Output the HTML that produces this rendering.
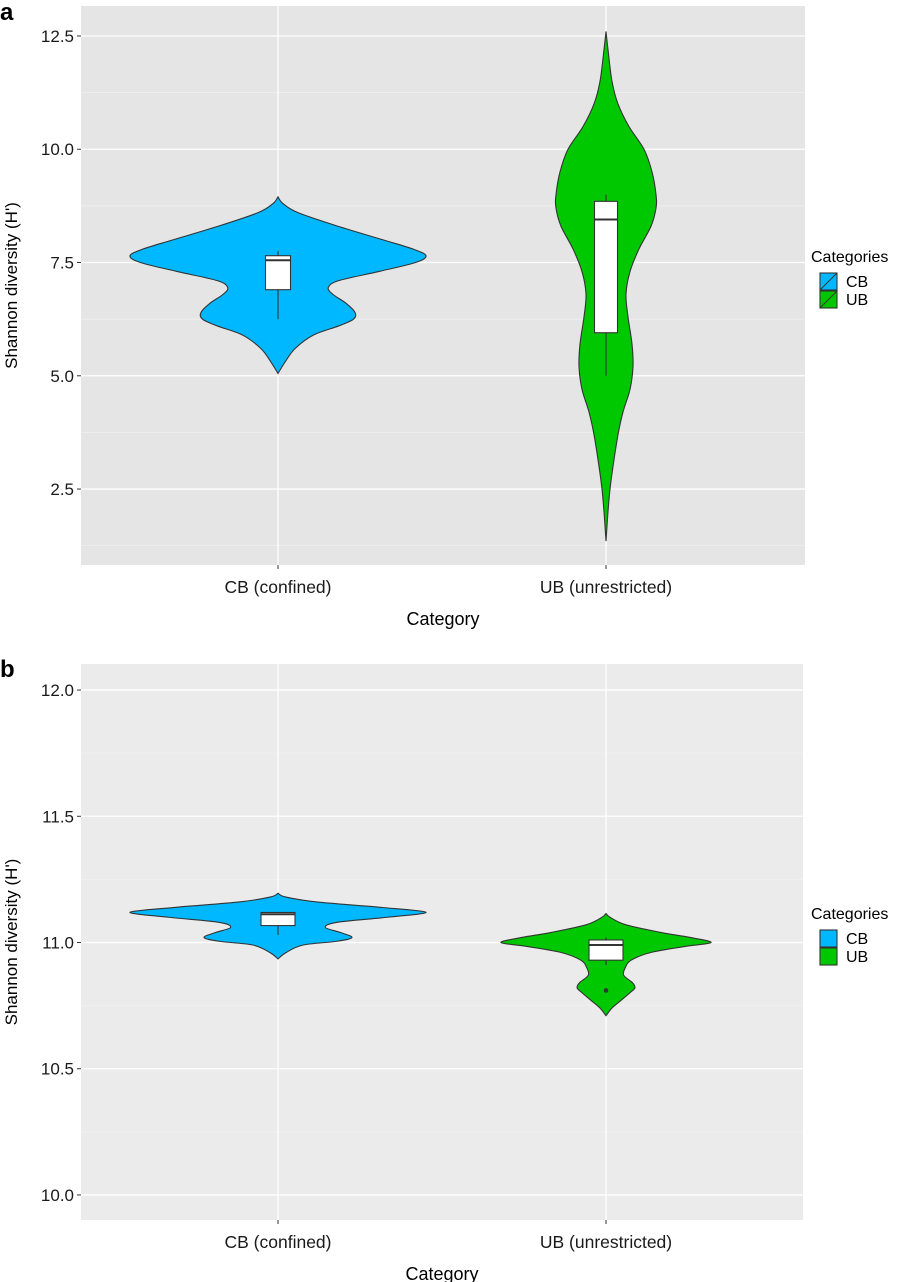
<!DOCTYPE html>
<html><head><meta charset="utf-8"><style>
body{margin:0;background:#fff;}
svg{display:block;font-family:"Liberation Sans",Arial,sans-serif;}
</style></head><body>
<svg id="chart" width="900" height="1282" viewBox="0 0 900 1282"></svg>
<script>
// ---- data ----
const categories = ["CB (confined)", "UB (unrestricted)"];
const legendLabels = ["CB", "UB"];
const colors = ["#00b8ff", "#00c800"];
const ticksA = [2.5, 5.0, 7.5, 10.0, 12.5];
const tickLabelsA = ["2.5", "5.0", "7.5", "10.0", "12.5"];
const ticksB = [10.0, 10.5, 11.0, 11.5, 12.0];
const tickLabelsB = ["10.0", "10.5", "11.0", "11.5", "12.0"];
// violin profiles: values and relative half-widths (0..1)
const violinA_CB_vals = [8.95,8.8,8.6,8.3,8.0,7.8,7.65,7.5,7.3,7.1,6.95,6.8,6.6,6.4,6.25,6.1,5.9,5.6,5.3,5.05];
const violinA_CB_dens = [0,0.034,0.135,0.405,0.71,0.91,1,0.93,0.68,0.41,0.34,0.37,0.46,0.52,0.51,0.41,0.24,0.115,0.047,0];
const violinA_UB_vals = [12.6,12.2,11.5,11.0,10.5,10.0,9.5,9.0,8.7,8.3,7.8,7.3,6.8,6.3,5.7,5.2,4.7,4.2,3.7,3.0,2.5,2.0,1.35];
const violinA_UB_dens = [0,0.04,0.12,0.24,0.46,0.76,0.92,1,1,0.9,0.66,0.48,0.4,0.44,0.52,0.54,0.48,0.34,0.24,0.14,0.08,0.04,0];
const violinB_CB_vals = [11.195,11.18,11.16,11.14,11.12,11.10,11.08,11.06,11.04,11.02,11.005,10.99,10.96,10.935];
const violinB_CB_dens = [0,0.054,0.27,0.68,1,0.74,0.4,0.32,0.42,0.5,0.4,0.17,0.054,0];
const violinB_UB_vals = [11.115,11.10,11.07,11.04,11.02,11.0,10.985,10.96,10.93,10.9,10.87,10.84,10.82,10.80,10.77,10.74,10.71];
const violinB_UB_dens = [0,0.027,0.135,0.37,0.57,0.71,0.54,0.3,0.17,0.13,0.12,0.18,0.195,0.16,0.1,0.04,0];
// box stats: [lowWhisker, q1, median, q3, highWhisker]
const boxA_CB = [6.25, 6.9, 7.55, 7.65, 7.75];
const boxA_UB = [5.0, 5.95, 8.45, 8.85, 9.0];
const boxB_CB = [11.03, 11.067, 11.112, 11.119, 11.12];
const boxB_UB = [10.91, 10.93, 10.99, 11.01, 11.02];
const outliersB_UB = [10.81];

const NS = "http://www.w3.org/2000/svg";
const svg = document.getElementById("chart");
function mk(tag, attrs, parent){const e=document.createElementNS(NS,tag);for(const k in attrs)e.setAttribute(k,attrs[k]);(parent||svg).appendChild(e);return e;}
function smooth(pts){let d="M"+pts[0][0]+","+pts[0][1];for(let i=0;i<pts.length-1;i++){const p0=pts[i-1]||pts[i],p1=pts[i],p2=pts[i+1],p3=pts[i+2]||p2;const c1=[p1[0]+(p2[0]-p0[0])/6,p1[1]+(p2[1]-p0[1])/6],c2=[p2[0]-(p3[0]-p1[0])/6,p2[1]-(p3[1]-p1[1])/6];d+=" C"+c1[0]+","+c1[1]+" "+c2[0]+","+c2[1]+" "+p2[0]+","+p2[1];}return d;}

function panel(cfg){
  const {left,right,top,bottom,yMin,yMax,ticks,labels,bg,letter,letterY,prefix}=cfg;
  const g=mk("g",{});
  
  
  const y=v=>bottom-(v-yMin)/(yMax-yMin)*(bottom-top);
  const xs=[278,606];
  const r=mk("rect",{x:left,y:top,width:right-left,height:bottom-top,fill:bg},g);
  
  
  const step=ticks[1]-ticks[0];
  for(let i=-1;i<ticks.length;i++){const v=ticks[0]+step*(i+0.5);const yy=y(v);if(yy>top&&yy<bottom){const l=mk("line",{x1:left,x2:right,y1:yy,y2:yy,stroke:"#f2f2f2","stroke-width":0.7},g);}}
  ticks.forEach((t,i)=>{const yy=y(t);
    const l=mk("line",{x1:left,x2:right,y1:yy,y2:yy,stroke:"#fff","stroke-width":1.3},g);
    
    
    mk("line",{x1:left-4,x2:left,y1:yy,y2:yy,stroke:"#333","stroke-width":1},g);
    const tx=mk("text",{x:left-7,y:yy+6,"text-anchor":"end","font-size":17,fill:"#1a1a1a"},g);
    tx.textContent=labels[i];
    
    
  });
  xs.forEach((x,i)=>{
    const l=mk("line",{x1:x,x2:x,y1:top,y2:bottom,stroke:"#fff","stroke-width":1.3},g);
    
    
    mk("line",{x1:x,x2:x,y1:bottom,y2:bottom+4,stroke:"#333","stroke-width":1},g);
    const tx=mk("text",{x:x,y:bottom+28,"text-anchor":"middle","font-size":17.5,fill:"#1a1a1a"},g);
    tx.textContent=categories[i];
    
    
  });
  cfg.violins.forEach((vd,i)=>{
    const x=xs[i];const vals=vd[0],dens=vd[1],maxW=vd[2];
    const rightPts=vals.map((v,k)=>[x+dens[k]*maxW,y(v)]);
    const leftPts=vals.map((v,k)=>[x-dens[k]*maxW,y(v)]).reverse();
    const d=smooth(rightPts)+" L"+smooth(leftPts).slice(1)+" Z";
    const p=mk("path",{d:d,fill:colors[i],stroke:"#333","stroke-width":1.1},g);
    
    
    const b=cfg.boxes[i],bw=cfg.boxW[i];
    const wl=mk("line",{x1:x,x2:x,y1:y(b[0]),y2:y(b[4]),stroke:"#333","stroke-width":1.1},g);
    
    
    const br=mk("rect",{x:x-bw/2,y:y(b[3]),width:bw,height:y(b[1])-y(b[3]),fill:"#fff",stroke:"#333","stroke-width":1.1},g);
    
    
    const md=mk("line",{x1:x-bw/2,x2:x+bw/2,y1:y(b[2]),y2:y(b[2]),stroke:"#333","stroke-width":2},g);
    
    
  });
  (cfg.outliers||[]).forEach(o=>{const c=mk("circle",{cx:xs[o[0]],cy:y(o[1]),r:2.3,fill:"#333"},g);});
  const yt=mk("text",{x:0,y:0,transform:"translate(17,"+((top+bottom)/2)+") rotate(-90)","text-anchor":"middle","font-size":17,fill:"#000"},g);
  yt.textContent="Shannon diversity (H')";
  
  
  const xt=mk("text",{x:(left+right)/2,y:bottom+60,"text-anchor":"middle","font-size":18,fill:"#000"},g);
  xt.textContent="Category";
  
  
  const lt=mk("text",{x:0,y:letterY,"font-size":24,"font-weight":"bold",fill:"#000"},g);
  lt.textContent=letter;
  
  
  // legend
  const ly=cfg.legendY;
  const ltt=mk("text",{x:811,y:ly,"font-size":16,fill:"#000"},g);
  ltt.textContent="Categories";
  
  
  legendLabels.forEach((lab,i)=>{
    const ky=ly+11+i*18;
    const k=mk("rect",{x:820,y:ky,width:17,height:17,fill:colors[i],stroke:"#333","stroke-width":1.1},g);
    
    
    if(cfg.diag){mk("line",{x1:820,y1:ky+17,x2:837,y2:ky,stroke:"#333","stroke-width":1},g);}
    const t=mk("text",{x:846,y:ky+14,"font-size":16,fill:"#000"},g);
    t.textContent=lab;
    
    
  });
}
panel({prefix:"a",left:81,right:805,top:6,bottom:565,yMin:2.5-(565-489)/45.33,yMax:12.5+(36-6)/45.33,
  ticks:ticksA,labels:tickLabelsA,bg:"#e5e5e5",letter:"a",letterY:20,legendY:262,diag:true,
  violins:[[violinA_CB_vals,violinA_CB_dens,148],[violinA_UB_vals,violinA_UB_dens,50]],
  boxes:[boxA_CB,boxA_UB],boxW:[25,23]});
panel({prefix:"b",left:81,right:803,top:664,bottom:1220,yMin:10-(1220-1195)/252,yMax:12+(690-664)/252,
  ticks:ticksB,labels:tickLabelsB,bg:"#ebebeb",letter:"b",letterY:677,legendY:919,diag:false,
  violins:[[violinB_CB_vals,violinB_CB_dens,148],[violinB_UB_vals,violinB_UB_dens,148]],
  boxes:[boxB_CB,boxB_UB],boxW:[34,34],outliers:outliersB_UB.map(v=>[1,v])});
</script>
</body></html>
